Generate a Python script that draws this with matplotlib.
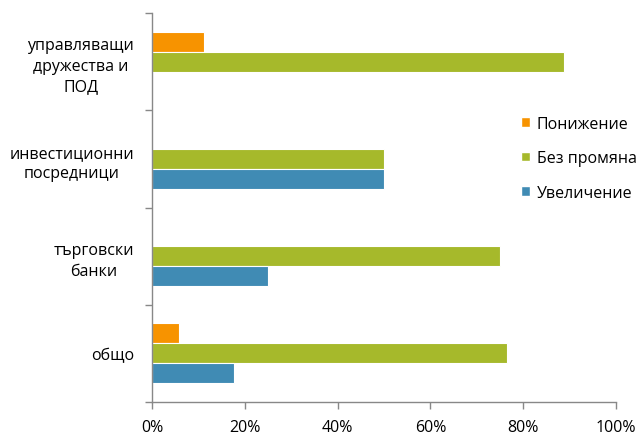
import matplotlib
matplotlib.use("Agg")
import matplotlib.pyplot as plt
import numpy as np
from matplotlib.patches import Patch

plt.rcParams['font.family'] = ['Open Sans', 'DejaVu Sans']

categories = ["управляващи\nдружества и\nПОД", "инвестиционни\nпосредници", "търговски\nбанки", "общо"]
series_names = ["Понижение", "Без промяна", "Увеличение"]
decrease = [11.1, 0.0, 0.0, 5.9]
no_change = [88.9, 50.0, 75.0, 76.5]
increase = [0.0, 50.0, 25.0, 17.6]
xticks = [0, 20, 40, 60, 80, 100]
xticklabels = ["0%", "20%", "40%", "60%", "80%", "100%"]

colors = ["#F79300", "#A6B92B", "#408BB4"]
fs = 11.5

fig = plt.figure(figsize=(6.37, 4.35), dpi=100)
ax = fig.add_axes([152/637, 1-403/435, (616-152)/637, (403-14)/435])

n = len(categories)
pos = np.arange(n)[::-1].astype(float)  # top category at top
h = 0.206
for vals, off, c in zip([decrease, no_change, increase], [h, 0, -h], colors):
    ax.barh(pos + off, vals, height=h, color=c, edgecolor="white", linewidth=0.8)

ax.set_xlim(0, 100)
ax.set_ylim(-0.5, n - 0.5)
ax.set_xticks(xticks)
ax.set_xticklabels(xticklabels, fontsize=fs)
ax.set_yticks(pos)
ax.set_yticklabels(categories, fontsize=fs, multialignment="center", linespacing=1.38)
ax.tick_params(axis="y", length=0, pad=13)
# boundary ticks
ax.set_yticks(np.arange(-0.5, n, 1.0), minor=True)
ax.tick_params(axis="y", which="minor", length=5, color="#888888", width=1)
ax.tick_params(axis="x", length=5, color="#888888", width=1, pad=7)

for s in ["top", "right"]:
    ax.spines[s].set_visible(False)
for s in ["left", "bottom"]:
    ax.spines[s].set_color("#888888")
    ax.spines[s].set_linewidth(1)

handles = [Patch(facecolor=c, edgecolor="white") for c in colors]
fig.legend(handles, series_names, loc="upper left", bbox_to_anchor=(516/637, 1-112/435),
           frameon=False, fontsize=fs, handlelength=0.55, handleheight=0.55,
           handletextpad=0.45, labelspacing=1.15, borderaxespad=0, borderpad=0.3)

fig.savefig("out.png", dpi=100)
